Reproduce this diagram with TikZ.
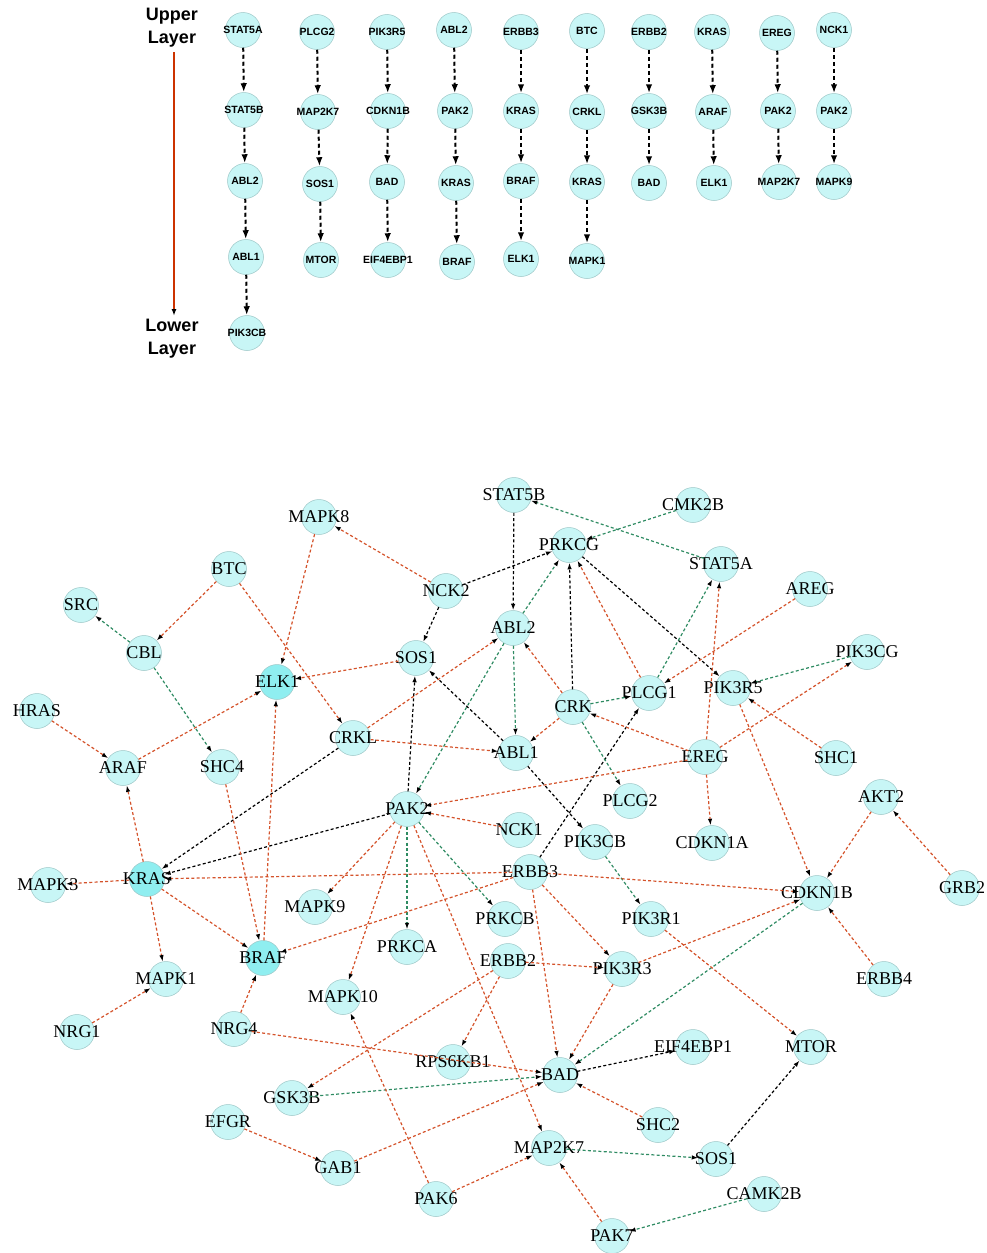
\documentclass[tikz,border=0pt]{standalone}
\usepackage{fontspec}
\setmainfont{Liberation Serif}
\setsansfont{Liberation Sans}
\usetikzlibrary{arrows.meta}
\definecolor{cyanlt}{HTML}{C8F6F6}
\definecolor{cyandk}{HTML}{8FEEF0}
\definecolor{nodeedge}{HTML}{9CC6C6}
\definecolor{edgeor}{HTML}{D4532B}
\definecolor{edgegr}{HTML}{2E8B62}
\definecolor{layerred}{HTML}{CC3300}
\tikzset{
  gene/.style={circle, minimum size=35pt, inner sep=0pt, fill=cyanlt, draw=nodeedge, line width=0.5pt,
    font=\fontsize{18}{20}\selectfont},
  hot/.style={gene, fill=cyandk},
  tgene/.style={circle, minimum size=35pt, inner sep=0pt, fill=cyanlt, draw=nodeedge, line width=0.5pt,
    font=\sffamily\bfseries\fontsize{10.5}{12}\selectfont},
  edgebase/.style={line width=1.2pt, dash pattern=on 3pt off 2.3pt,
    -{Latex[length=6.5pt,width=4.5pt,color=black]}},
  orr/.style={edgebase, draw=edgeor},
  grn/.style={edgebase, draw=edgegr},
  blk/.style={edgebase, draw=black},
  tarrow/.style={draw=black, line width=2pt, dash pattern=on 4pt off 3pt,
    -{Latex[length=9pt,width=6.5pt]}},
  layerlbl/.style={font=\sffamily\bfseries\fontsize{18}{23}\selectfont, align=center, inner sep=0pt}
}
\begin{document}
\begin{tikzpicture}[x=1pt,y=-1pt]
\useasboundingbox (0,0) rectangle (987,1253);

% ---------------- upper panel ----------------
\node[layerlbl] (upper) at (172,28) {Upper\\Layer};
\node[layerlbl] (lower) at (172,339) {Lower\\Layer};
\coordinate (lstart) at (174,52);
\coordinate (lend) at (174,316);
\draw[layerred, line width=1.8pt, -{Latex[length=7pt,width=5pt,color=black]}] (lstart) -- (lend);

\foreach \n/\x/\y/\t in {
  t1a/243/30/STAT5A, t1b/244/110/STAT5B, t1c/245/181/ABL2, t1d/246/257/ABL1, t1e/247/333/PIK3CB,
  t2a/317/32/PLCG2, t2b/318/112/MAP2K7, t2c/320/184/SOS1, t2d/321/260/MTOR,
  t3a/387/32/PIK3R5, t3b/388/111/CDKN1B, t3c/387/182/BAD, t3d/388/260/EIF4EBP1,
  t4a/454/30/ABL2, t4b/455/111/PAK2, t4c/456/183/KRAS, t4d/457/262/BRAF,
  t5a/521/32/ERBB3, t5b/521/111/KRAS, t5c/521/181/BRAF, t5d/521/259/ELK1,
  t6a/587/31/BTC, t6b/587/112/CRKL, t6c/587/182/KRAS, t6d/587/261/MAPK1,
  t7a/649/32/ERBB2, t7b/649/111/GSK3B, t7c/649/183/BAD,
  t8a/712/32/KRAS, t8b/713/112/ARAF, t8c/714/183/ELK1,
  t9a/777/33/EREG, t9b/778/111/PAK2, t9c/779/182/MAP2K7,
  tXa/834/30/NCK1, tXb/834/111/PAK2, tXc/834/182/MAPK9}
  \node[tgene] (\n) at (\x,\y) {\makebox[0pt]{\t}};

\foreach \a/\b in {t1a/t1b, t1b/t1c, t1c/t1d, t1d/t1e,
  t2a/t2b, t2b/t2c, t2c/t2d, t3a/t3b, t3b/t3c, t3c/t3d,
  t4a/t4b, t4b/t4c, t4c/t4d, t5a/t5b, t5b/t5c, t5c/t5d,
  t6a/t6b, t6b/t6c, t6c/t6d, t7a/t7b, t7b/t7c, t8a/t8b, t8b/t8c,
  t9a/t9b, t9b/t9c, tXa/tXb, tXb/tXc}
  \draw[tarrow] (\a) -- (\b);

% ---------------- network ----------------
\foreach \n/\x/\y/\t in {
  stB/514/495/STAT5B, cmk/693/505/CMK2B, mkE/319/517/MAPK8, prkcg/569/545/PRKCG,
  stA/721/564/STAT5A, btc/229/569/BTC, areg/810/589/AREG, src/81/605/SRC,
  nckB/446/591/NCK2, ablB/513/628/ABL2, cbl/144/653/CBL, sosA/416/658/SOS1,
  pikcg/867/652/PIK3CG, plcgA/649/693/PLCG1, pikrE/733/688/PIK3R5,
  crk/573/707/CRK, hras/37/711/HRAS, crkl/353/738/CRKL, ablA/516/753/ABL1,
  ereg/705/757/EREG, shcA/836/758/SHC1, araf/123/768/ARAF, shcD/222/767/SHC4,
  plcgB/630/801/PLCG2, akt/881/797/AKT2, pak/407/809/PAK2, nckA/519/830/NCK1,
  pikcb/595/842/PIK3CB, cdkA/712/843/CDKN1A, mkC/48/885/MAPK3,
  erbC/530/872/ERBB3, cdkB/817/893/CDKN1B, grb/962/888/GRB2, mkI/315/907/MAPK9,
  prkcb/505/919/PRKCB, pikrA/651/919/PIK3R1, prkca/407/947/PRKCA,
  erbB/508/961/ERBB2, pikrC/622/969/PIK3R3, mkA/166/979/MAPK1, erbD/884/979/ERBB4,
  mkJ/343/997/MAPK10, nrgA/77/1032/NRG1, nrgD/234/1029/NRG4, eif/693/1047/EIF4EBP1,
  mtor/811/1047/MTOR, rps/453/1062/RPS6KB1, bad/560/1075/BAD, gsk/292/1098/GSK3B,
  efgr/228/1122/EFGR, shcB/658/1125/SHC2, gab/338/1168/GAB1, mapkk/549/1148/MAP2K7,
  sosB/716/1159/SOS1, pakF/436/1199/PAK6, camk/764/1194/CAMK2B, pakG/612/1236/PAK7}
  \node[gene] (\n) at (\x,\y) {\makebox[0pt]{\t}};

\foreach \n/\x/\y/\t in {elk/277/682/ELK1, kras/147/879/KRAS, braf/263/958/BRAF}
  \node[hot] (\n) at (\x,\y) {\makebox[0pt]{\t}};

% black edges
\foreach \a/\b in {stB/ablB, nckB/prkcg, crk/prkcg, prkcg/pikrE, erbC/plcgA,
  ablA/sosA, nckB/sosA, crkl/kras, pak/sosA, pak/kras, ablA/pikcb, sosB/mtor, bad/eif}
  \draw[blk] (\a) -- (\b);

% green edges
\foreach \a/\b in {stA/stB, cmk/prkcg, ablB/prkcg, plcgA/stA, pikcg/pikrE, crk/plcgA,
  ablB/ablA, crk/plcgB, ablB/pak, cbl/src, cbl/shcD, cdkB/bad, pikcb/pikrA,
  pak/prkca, pak/prkcb, camk/pakG, mapkk/sosB, gsk/bad}
  \draw[grn] (\a) -- (\b);

% orange edges
\foreach \a/\b in {plcgA/prkcg, ereg/stA, areg/plcgA, ereg/pikcg, shcA/pikrE, pikrE/cdkB,
  crk/ablB, crk/ablA, ereg/crk, nckB/mkE, mkE/elk, sosA/elk, btc/cbl, btc/crkl,
  hras/araf, araf/elk, crkl/ablB, crkl/ablA, ereg/pak, nckA/pak, ereg/cdkA,
  akt/cdkB, grb/akt, erbD/cdkB, erbC/cdkB, pikrC/cdkB, pikrA/mtor, erbC/pikrC,
  erbC/bad, erbB/pikrC, pikrC/bad, erbC/braf, pak/mkI, pak/mkJ, pak/mapkk,
  pakF/mkJ, pakF/mapkk, pakG/mapkk, shcB/bad, nrgD/bad, gab/bad, efgr/gab,
  erbB/gsk, erbB/rps, nrgD/braf, nrgA/mkA, kras/mkA, kras/araf, kras/braf,
  kras/mkC, shcD/braf, braf/elk, erbC/kras}
  \draw[orr] (\a) -- (\b);
\end{tikzpicture}
\end{document}
